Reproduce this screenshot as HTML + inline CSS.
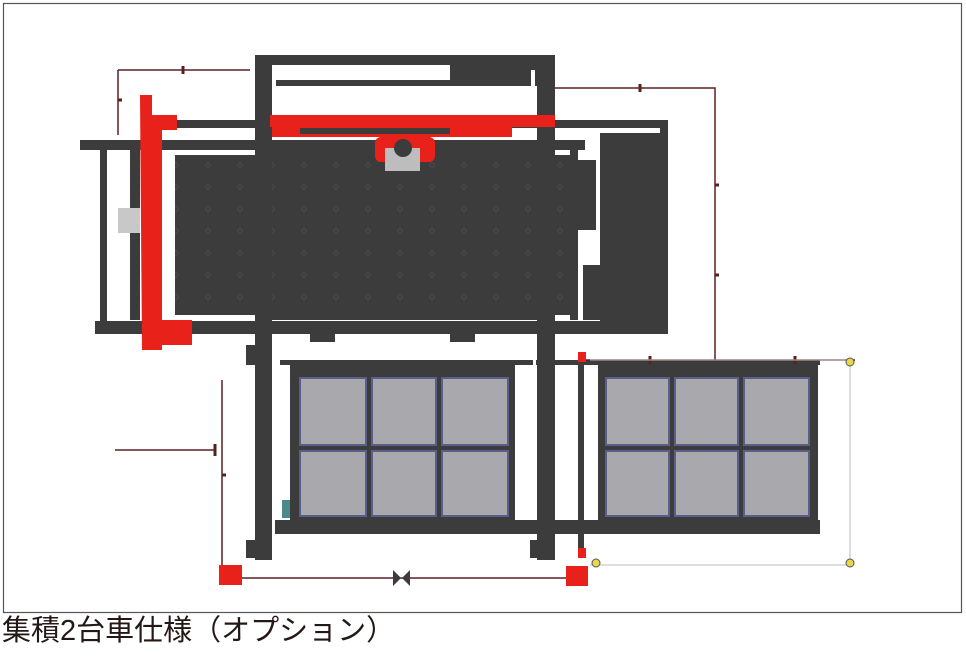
<!DOCTYPE html>
<html><head><meta charset="utf-8"><style>
body{margin:0;background:#fff;width:966px;height:665px;overflow:hidden;position:relative}
.cap{position:absolute;left:2px;top:617px;font:29px "Liberation Sans","Noto Sans CJK JP",sans-serif;color:#231815;white-space:nowrap;line-height:1}
</style></head><body>
<svg width="966" height="665" style="position:absolute;left:0;top:0">
<rect x="3.5" y="3.5" width="958" height="609" fill="#fff" stroke="#555" stroke-width="1.2"/>
<defs><pattern id="d" x="0" y="0" width="32" height="22" patternUnits="userSpaceOnUse"><circle cx="16" cy="11" r="2.2" fill="none" stroke="#555" stroke-width="1"/></pattern></defs>
<g fill="#3c3c3c">
<rect x="150" y="120" width="518" height="8"/>
<rect x="80" y="140" width="505" height="10"/>
<rect x="95" y="321" width="573" height="13"/>
<rect x="100" y="150" width="7" height="172"/>
<rect x="660" y="120" width="8" height="214"/>
<rect x="175" y="155" width="395" height="160"/>
<rect x="600" y="133" width="60" height="190"/>
<rect x="583" y="265" width="50" height="55"/>
<rect x="578" y="160" width="18" height="70"/>
<rect x="570" y="150" width="8" height="170"/>
<rect x="255" y="55" width="300" height="10"/>
<rect x="272" y="80" width="265" height="6"/>
<rect x="450" y="60" width="87" height="25"/>
<rect x="255" y="55" width="17" height="505"/>
<rect x="537" y="55" width="18" height="505"/>
<rect x="246" y="345" width="12" height="20"/>
<rect x="246" y="540" width="12" height="18"/>
<rect x="530" y="540" width="10" height="18"/>
<rect x="310" y="334" width="25" height="8"/>
<rect x="450" y="334" width="25" height="8"/>
<rect x="290" y="365" width="225" height="160"/>
<rect x="598" y="365" width="220" height="160"/>
<rect x="275" y="520" width="545" height="14"/>
<rect x="280" y="360" width="540" height="5"/>
<rect x="578" y="355" width="6" height="200"/>
<rect x="130" y="150" width="10" height="170"/>
</g>
<rect x="175" y="155" width="395" height="160" fill="url(#d)" opacity=".6"/>
<rect x="255" y="150" width="300" height="170" fill="#3c3c3c"/>
<rect x="272" y="155" width="265" height="160" fill="#3c3c3c"/>
<rect x="272" y="155" width="265" height="160" fill="url(#d)" opacity=".6"/>
<g fill="#fff">
<rect x="272" y="70" width="4" height="45"/><rect x="531" y="70" width="4" height="45"/>
<rect x="272" y="340" width="3" height="175"/><rect x="533" y="340" width="3" height="175"/>
</g>
<g fill="#e8221a">
<path d="M140 95 h12 v20 h25 v15 h-15 v190 h30 v25 h-30 v5 h-20 z"/>
<rect x="270" y="115" width="285" height="12"/>
<rect x="272" y="127" width="240" height="10"/>
<rect x="375" y="137" width="60" height="25" rx="6"/>
</g>
<rect x="300" y="128" width="150" height="6" fill="#3c3c3c"/>
<rect x="385" y="148" width="35" height="23" fill="#bdbdbd"/>
<circle cx="403" cy="148" r="9" fill="#3c3c3c"/>
<rect x="118" y="208" width="22" height="25" fill="#c8c8c8"/>
<g fill="#a9a9ad" stroke="#5a5e8a" stroke-width="2">
<rect x="300" y="378" width="66" height="67"/><rect x="372" y="378" width="64" height="67"/><rect x="442" y="378" width="66" height="67"/>
<rect x="300" y="451" width="66" height="65"/><rect x="372" y="451" width="64" height="65"/><rect x="442" y="451" width="66" height="65"/>
<rect x="606" y="378" width="63" height="67"/><rect x="675" y="378" width="63" height="67"/><rect x="744" y="378" width="65" height="67"/>
<rect x="606" y="451" width="63" height="65"/><rect x="675" y="451" width="63" height="65"/><rect x="744" y="451" width="65" height="65"/>
</g>
<rect x="282" y="500" width="8" height="18" fill="#4a8a8a"/>
<g stroke="#5a2020" stroke-width="1.5" fill="none">
<path d="M118 70 H250 M118 70 V135 M555 88 H715 V360 M222 380 V570 M115 450 H215 M222 578 H582 M585 360 H855"/>
</g>
<g stroke="#5a2020" stroke-width="3">
<path d="M183 66 v8 M118 100 h4 M640 84 v8 M715 185 h4 M715 275 h4 M222 475 h4 M215 444 v12 M650 356 v8 M795 356 v8"/>
</g>
<path d="M590 360 H850 V565 H590" stroke="#bbb" fill="none"/>
<g fill="#e8221a">
<rect x="219" y="565" width="23" height="20"/><rect x="566" y="566" width="22" height="20"/>
<rect x="578" y="548" width="8" height="10"/><rect x="578" y="352" width="8" height="10"/>
</g>
<path d="M393 570 l8 8 l-8 8 z M410 570 l-8 8 l8 8 z" fill="#3c3c3c"/>
<g fill="#e6d84a" stroke="#555"><circle cx="850" cy="362" r="4"/><circle cx="850" cy="563" r="4"/><circle cx="596" cy="563" r="4"/></g>
</svg>
<div class="cap">集積2台車仕様（オプション）</div>
</body></html>
